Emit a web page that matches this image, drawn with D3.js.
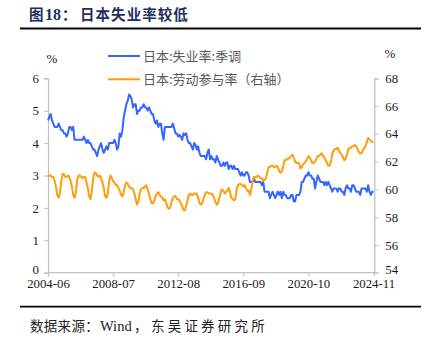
<!DOCTYPE html>
<html><head><meta charset="utf-8">
<script src="https://cdn.jsdelivr.net/npm/d3@7"></script>
<style>
html,body{margin:0;padding:0;background:#fff;}
svg{display:block;}
</style></head>
<body>
<svg id="chart" width="429" height="338"></svg>
<script>
// ---- data ----
const startMonth = "2004-06";
const tickLabels = ["2004-06","2008-07","2012-08","2016-09","2020-10","2024-11"];
const leftTicks = [0,1,2,3,4,5,6];
const rightTicks = [54,56,58,60,62,64,66,68];
const seriesNames = ["日本:失业率:季调","日本:劳动参与率（右轴）"];

// 日本:失业率:季调 (%), monthly 2004-06 .. 2024-11
const unemployment = [
  4.7,4.8,4.9,4.7,4.6,4.5,4.5,
  4.5,4.6,4.5,4.4,4.4,4.3,4.3,4.2,4.3,4.5,4.5,4.4,
  4.5,4.1,4.1,4.1,4.1,4.1,4.1,4.1,4.2,4.1,4.0,4.1,
  4.0,4.0,3.9,3.8,3.8,3.7,3.6,3.8,3.9,4.0,3.8,3.7,
  3.8,3.9,3.8,4.0,4.0,4.0,4.0,4.1,4.0,3.8,3.9,4.3,
  4.2,4.4,4.8,5.0,5.2,5.3,5.5,5.45,5.35,5.1,5.2,5.2,
  4.9,5.0,5.0,5.1,5.1,5.2,5.1,5.1,5.0,5.1,5.0,4.9,
  4.9,4.7,4.6,4.7,4.5,4.6,4.6,4.3,4.1,4.5,4.5,4.5,
  4.5,4.5,4.5,4.6,4.45,4.3,4.3,4.2,4.25,4.2,4.1,4.3,
  4.25,4.3,4.1,4.0,4.0,3.9,3.8,4.0,3.95,3.8,3.9,3.7,
  3.6,3.6,3.6,3.6,3.5,3.7,3.8,3.5,3.6,3.5,3.5,3.4,
  3.6,3.5,3.4,3.3,3.3,3.4,3.3,3.4,3.4,3.2,3.3,3.3,
  3.2,3.3,3.2,3.2,3.2,3.1,3.0,3.1,3.0,3.0,3.1,3.1,
  3.0,2.8,2.8,2.8,2.9,2.8,2.8,2.8,2.8,2.8,2.7,2.8,
  2.5,2.5,2.5,2.5,2.3,2.4,2.5,2.4,2.3,2.4,2.5,2.4,
  2.5,2.3,2.5,2.4,2.4,2.3,2.3,2.3,2.4,2.4,2.2,2.2,
  2.4,2.4,2.4,2.5,2.8,2.8,2.9,3.0,3.0,3.1,3.0,3.0,
  2.9,2.9,2.6,2.8,3.0,2.9,2.8,2.8,2.8,2.7,2.8,2.7,
  2.8,2.7,2.6,2.5,2.6,2.6,2.6,2.5,2.6,2.6,2.5,2.5,
  2.4,2.6,2.7,2.6,2.6,2.5,2.7,2.7,2.6,2.5,2.5,2.5,
  2.4,2.6,2.6,2.6,2.6,2.5,2.7,2.5,2.4,2.5,2.5
];

// 日本:劳动参与率 (%), right axis
const participation = [
  60.9,61.0,61.0,60.9,60.9,60.6,60.2,
  59.6,59.4,59.7,60.6,61.1,61.1,60.9,60.9,61.0,60.9,60.6,60.2,
  59.6,59.4,59.8,60.7,61.0,61.0,60.9,60.8,60.9,60.9,60.5,60.1,
  59.5,59.3,59.9,60.8,61.2,61.2,61.0,60.9,61.0,60.8,60.5,60.1,
  59.5,59.4,59.7,60.6,61.0,60.8,60.6,60.5,60.3,60.3,60.1,59.9,
  59.6,59.5,59.8,60.3,60.5,60.4,60.2,60.1,60.1,60.0,59.7,59.3,
  58.9,59.1,59.7,60.0,60.1,60.1,60.2,60.3,60.0,59.7,59.3,59.0,
  59.0,59.2,59.5,59.7,59.8,59.6,59.5,59.4,59.2,59.3,59.0,58.7,
  58.6,58.7,59.1,59.4,59.5,59.5,59.3,59.3,59.2,59.0,58.8,58.5,
  58.5,58.8,59.2,59.6,59.7,59.6,59.6,59.7,59.7,59.7,59.4,59.0,
  58.9,59.0,59.3,59.6,59.8,59.8,59.7,59.7,59.7,59.6,59.4,59.1,
  58.9,59.0,59.4,59.8,60.0,59.9,59.7,59.8,59.9,60.1,59.8,59.4,
  59.3,59.2,59.3,60.0,60.3,60.4,60.4,60.3,60.2,60.3,60.1,59.9,
  59.9,59.6,60.0,60.6,60.9,60.9,60.9,61.0,60.9,60.8,60.8,60.6,
  60.7,60.8,61.2,61.6,61.6,61.7,61.7,61.6,61.6,61.7,61.6,61.3,
  61.2,61.3,61.6,62.1,62.1,62.2,62.2,62.3,62.4,62.5,62.3,62.0,
  61.9,61.9,61.9,61.5,61.6,61.8,61.9,62.0,62.2,62.4,62.3,62.1,
  61.9,61.9,62.0,62.2,62.4,62.4,62.5,62.6,62.4,62.3,62.1,61.9,
  61.7,61.7,62.0,62.6,62.8,62.9,62.9,63.0,62.8,62.6,62.5,62.3,
  62.1,62.2,62.5,62.9,63.0,63.0,63.1,63.1,63.2,63.1,62.9,62.7,
  62.6,62.6,62.8,63.0,63.1,63.4,63.7,63.6,63.5,63.4,63.4
];

// month categories
const fmt = d3.timeFormat("%Y-%m");
const t0 = d3.timeParse("%Y-%m")(startMonth);
const months = unemployment.map((_, i) => fmt(d3.timeMonth.offset(t0, i)));

// ---- layout ----
const svg = d3.select("#chart");
const L = 48, R = 373.5, T = 78.3, B = 272.7;
const blue = "#3366ff", orange = "#ff9d0a", axisCol = "#bfbfbf", textCol = "#1a1a1a";
const serif = "'Liberation Serif','Times New Roman',serif";
const cjk = "'Noto Sans CJK SC','Noto Sans',sans-serif";

const x = d3.scalePoint().domain(months).range([L, R]);
const yL = d3.scaleLinear().domain([0, 6]).range([B, T]);
const yR = d3.scaleLinear().domain([54, 68]).range([B, T]);

// title
const title = svg.append("text").attr("y", 19.5)
  .attr("font-weight", "bold").attr("fill", "#1f2f5c");
title.append("tspan").attr("x", 29).attr("font-family", cjk).attr("font-size", 14.5).text("图");
title.append("tspan").attr("x", 45).attr("font-family", serif).attr("font-size", 16).text("18");
title.append("tspan").attr("x", 62).attr("font-family", cjk).attr("font-size", 14.5).text("：");
title.append("tspan").attr("x", 80).attr("font-family", cjk).attr("font-size", 14.5)
  .attr("letter-spacing", 1.05).text("日本失业率较低");
svg.append("line").attr("x1", 20).attr("x2", 421).attr("y1", 28.5).attr("y2", 28.5)
  .attr("stroke", "#000").attr("stroke-width", 1.8);

// axes
const gL = svg.append("g").attr("transform", `translate(${L},0)`)
  .call(d3.axisLeft(yL).tickValues(leftTicks).tickSize(4).tickPadding(5).tickFormat(d3.format("d")));
const gR = svg.append("g").attr("transform", `translate(${R + 0.8},0)`)
  .call(d3.axisRight(yR).tickValues(rightTicks).tickSize(4).tickPadding(7).tickFormat(d3.format("d")));
const gB = svg.append("g").attr("transform", `translate(0,${B})`)
  .call(d3.axisBottom(x).tickValues(tickLabels).tickSize(4).tickPadding(3));
[gL, gR, gB].forEach(g => {
  g.selectAll("path.domain").attr("stroke", axisCol).attr("stroke-width", 1.2);
  g.selectAll(".tick line").attr("stroke", axisCol).attr("stroke-width", 1);
  g.selectAll(".tick text").attr("font-family", serif).attr("font-size", 12.8).attr("fill", textCol);
});
// lowest labels sit slightly higher so they clear the date labels
gL.selectAll(".tick text").filter(d => d === 0).attr("dy", "0.1em");
gR.selectAll(".tick text").filter(d => d === 54).attr("dy", "0.1em");
gB.selectAll(".tick text").attr("y", 15).attr("dy", 0);
gB.select("path.domain").attr("d", `M${L},0H${R + 0.8}`);

// unit labels
svg.append("text").attr("x", 52).attr("y", 63).attr("text-anchor", "middle")
  .attr("font-family", serif).attr("font-size", 13).attr("fill", textCol).text("%");
svg.append("text").attr("x", 390).attr("y", 58).attr("text-anchor", "middle")
  .attr("font-family", serif).attr("font-size", 13).attr("fill", textCol).text("%");

// lines
const lineL = d3.line().x((d, i) => x(months[i])).y(d => yL(d));
const lineR = d3.line().x((d, i) => x(months[i])).y(d => yR(d));
svg.append("path").datum(unemployment).attr("d", lineL)
  .attr("fill", "none").attr("stroke", blue).attr("stroke-width", 2).attr("stroke-linejoin", "round");
svg.append("path").datum(participation).attr("d", lineR)
  .attr("fill", "none").attr("stroke", orange).attr("stroke-width", 2).attr("stroke-linejoin", "round");

// legend
const legend = svg.append("g");
[[seriesNames[0], blue, 56], [seriesNames[1], orange, 79.3]].forEach(([name, col, yy]) => {
  legend.append("line").attr("x1", 108).attr("x2", 140).attr("y1", yy).attr("y2", yy)
    .attr("stroke", col).attr("stroke-width", 2);
  legend.append("text").attr("x", 143).attr("y", yy + 4.5)
    .attr("font-family", cjk).attr("font-size", 13).attr("fill", "#595959").text(name);
});

// footnote
svg.append("line").attr("x1", 20).attr("x2", 421).attr("y1", 306.7).attr("y2", 306.7)
  .attr("stroke", "#000").attr("stroke-width", 1.8);
const foot = svg.append("text").attr("y", 331).attr("fill", "#222");
foot.append("tspan").attr("x", 30).attr("font-family", cjk).attr("font-size", 13.5)
  .attr("letter-spacing", 0.3).text("数据来源：");
foot.append("tspan").attr("x", 100).attr("font-family", serif).attr("font-size", 14.5).text("Wind");
foot.append("tspan").attr("x", 134).attr("font-family", cjk).attr("font-size", 13.5).text("，");
foot.append("tspan").attr("x", 151).attr("font-family", cjk).attr("font-size", 13.5)
  .attr("letter-spacing", 3.2).text("东吴证券研究所");
</script>
</body></html>
